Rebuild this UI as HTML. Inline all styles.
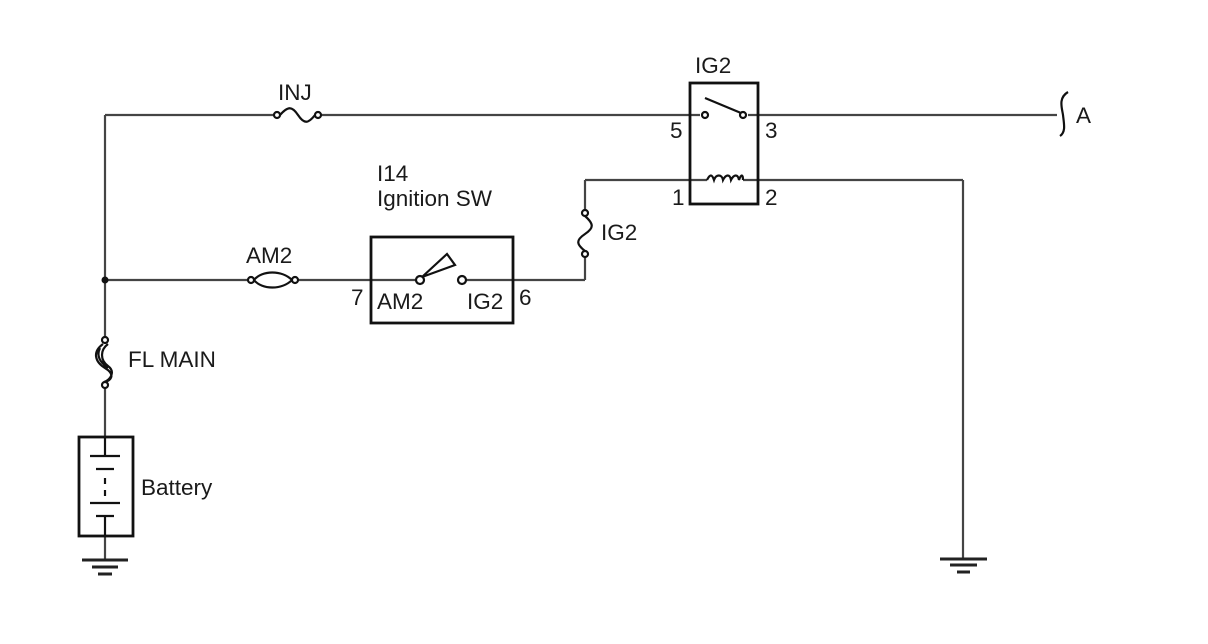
<!DOCTYPE html>
<html><head><meta charset="utf-8"><style>
html,body{margin:0;padding:0;background:#fff;}
svg{display:block;}
text{font-family:"Liberation Sans",Arial,sans-serif;font-size:22.5px;fill:#1a1a1a;}
</style></head><body>
<svg width="1208" height="644" viewBox="0 0 1208 644" xmlns="http://www.w3.org/2000/svg">
<g stroke="#444" stroke-width="2.2" fill="none">
<line x1="105" y1="115" x2="275" y2="115"/>
<line x1="321" y1="115" x2="700" y2="115"/>
<line x1="748" y1="115" x2="1057" y2="115"/>
<line x1="105" y1="115" x2="105" y2="337"/>
<line x1="105" y1="388" x2="105" y2="437"/>
<line x1="105" y1="536" x2="105" y2="559"/>
<line x1="105" y1="280" x2="249" y2="280"/>
<line x1="298" y1="280" x2="416" y2="280"/>
<line x1="466" y1="280" x2="585" y2="280"/>
<line x1="585" y1="280" x2="585" y2="256"/>
<line x1="585" y1="215" x2="585" y2="180"/>
<line x1="585" y1="180" x2="707" y2="180"/>
<line x1="743" y1="180" x2="963" y2="180"/>
<line x1="963" y1="180" x2="963" y2="559"/>
</g>
<g stroke="#111" stroke-width="2.8" fill="none">
<rect x="690" y="83" width="68" height="121"/>
<rect x="371" y="237" width="142" height="86"/>
<rect x="79" y="437" width="54" height="99"/>
</g>
<g stroke="#111" stroke-width="2.2" fill="#fff">
<circle cx="277" cy="115" r="3"/><circle cx="318" cy="115" r="3"/>
<path d="M280 115 C288 106 292 106 298 115 C304 124 308 124 315 115" fill="none"/>
<circle cx="251" cy="280" r="3"/><circle cx="295" cy="280" r="3"/>
<path d="M254 280 C262 270 282 270 292 280 M254 280 C262 290 282 290 292 280" fill="none"/>
<circle cx="585" cy="213" r="3"/><circle cx="585" cy="254" r="3"/>
<path d="M585 216 C594 224 594 228 585 234 C576 240 576 244 585 251" fill="none"/>
<circle cx="105" cy="340" r="3"/><circle cx="105" cy="385" r="3"/>
<path d="M103 344 C92 352 95 362 105 368 C115 374 112 380 105 382 M108 344 C100 350 100 360 108 366 C116 372 110 380 104 382 M100 348 C96 356 100 362 108 368" fill="none"/>
<circle cx="705" cy="115" r="3"/><circle cx="743" cy="115" r="3"/>
<line x1="705" y1="98" x2="741" y2="113"/>
<path d="M707 180 C710 174 712 174 714 180 C716 174 722 174 723 180 C726 174 730 174 731 180 C734 174 738 174 739 180 C741 174 743 174 743 180" fill="none"/>
<circle cx="420" cy="280" r="4"/><circle cx="462" cy="280" r="4"/>
<path d="M422 277 L447 254 L455 265 Z" fill="none"/>
<line x1="90" y1="456" x2="120" y2="456"/>
<line x1="96" y1="469" x2="114" y2="469"/>
<line x1="105" y1="478" x2="105" y2="484"/>
<line x1="105" y1="490" x2="105" y2="496"/>
<line x1="90" y1="503" x2="120" y2="503"/>
<line x1="96" y1="516" x2="114" y2="516"/>
<line x1="105" y1="437" x2="105" y2="456"/>
<line x1="105" y1="516" x2="105" y2="536"/>
<path d="M1068 92 C1058 98 1062 108 1063 115 C1064 124 1066 132 1060 136" fill="none"/>
</g>
<circle cx="105" cy="280" r="3.5" fill="#111"/>
<g stroke="#222" stroke-width="3">
<line x1="82" y1="560" x2="128" y2="560"/><line x1="92" y1="567" x2="118" y2="567"/><line x1="98" y1="574" x2="112" y2="574"/>
<line x1="940" y1="559" x2="987" y2="559"/><line x1="950" y1="565" x2="977" y2="565"/><line x1="957" y1="572" x2="970" y2="572"/>
</g>
<text x="278" y="100">INJ</text>
<text x="695" y="73">IG2</text>
<text x="670" y="138">5</text>
<text x="765" y="138">3</text>
<text x="672" y="205">1</text>
<text x="765" y="205">2</text>
<text x="1076" y="123">A</text>
<text x="377" y="181">I14</text>
<text x="377" y="206">Ignition SW</text>
<text x="601" y="240">IG2</text>
<text x="246" y="263">AM2</text>
<text x="351" y="305">7</text>
<text x="377" y="309">AM2</text>
<text x="467" y="309">IG2</text>
<text x="519" y="305">6</text>
<text x="128" y="367">FL MAIN</text>
<text x="141" y="495">Battery</text>
</svg>
</body></html>
